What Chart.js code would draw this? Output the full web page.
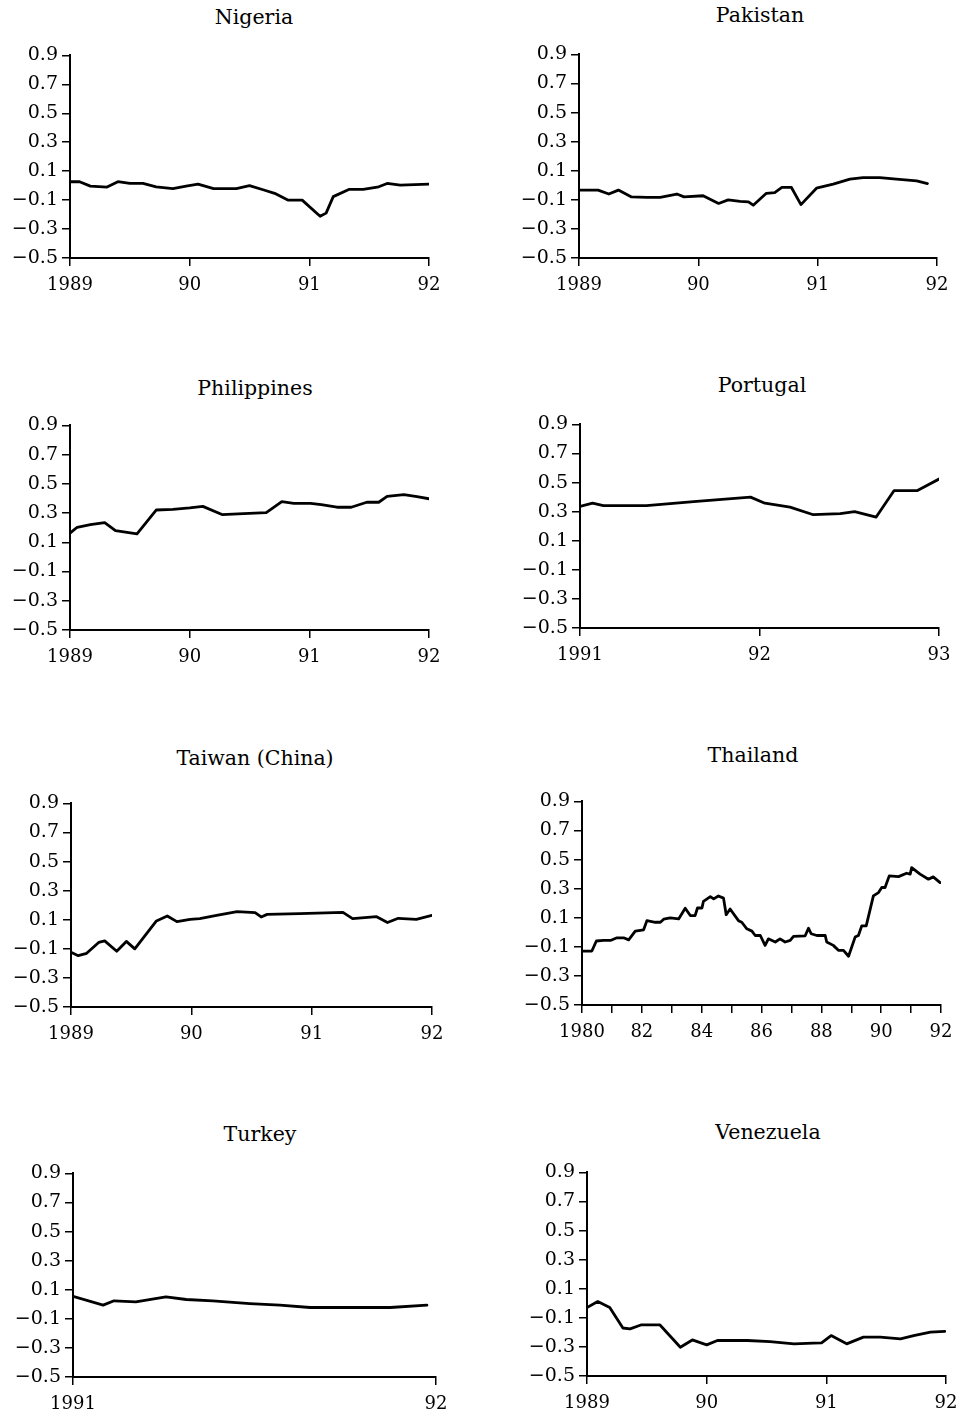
<!DOCTYPE html>
<html>
<head>
<meta charset="utf-8">
<script src="https://cdn.jsdelivr.net/npm/chart.js@4.4.1/dist/chart.umd.min.js"></script>
<style>
  body { margin: 0; background: #fff; }
  #page { position: relative; width: 960px; height: 1416px; overflow: hidden; }
  canvas { position: absolute; }
  .ttl { position: absolute; width: 300px; text-align: center; font-family: "DejaVu Serif", serif; font-size: 20.5px; line-height: 24px; color: #000; }
</style>
</head>
<body>
<div id="page"></div>
<script>
// ---------------------------------------------------------------- data

var yTicks = [-0.5, -0.3, -0.1, 0.1, 0.3, 0.5, 0.7, 0.9];

var nigeriaT = [1989.00, 1989.08, 1989.17, 1989.31, 1989.40, 1989.50, 1989.61, 1989.72, 1989.86, 1989.97,
                1990.07, 1990.20, 1990.39, 1990.50, 1990.62, 1990.71, 1990.82, 1990.94, 1991.09, 1991.14,
                1991.20, 1991.33, 1991.45, 1991.58, 1991.65, 1991.76, 1992.00];
var nigeriaV = [0.027, 0.027, -0.003, -0.010, 0.027, 0.015, 0.015, -0.008, -0.020, -0.003,
                0.010, -0.020, -0.020, 0.000, -0.030, -0.053, -0.100, -0.100, -0.212, -0.190,
                -0.076, -0.026, -0.026, -0.008, 0.015, 0.004, 0.010];

var pakistanT = [1989.00, 1989.16, 1989.25, 1989.33, 1989.44, 1989.57, 1989.68, 1989.82, 1989.88, 1990.04,
                 1990.17, 1990.25, 1990.35, 1990.42, 1990.46, 1990.57, 1990.64, 1990.70, 1990.78, 1990.86,
                 1990.99, 1991.13, 1991.27, 1991.38, 1991.52, 1991.66, 1991.83, 1991.92];
var pakistanV = [-0.033, -0.033, -0.060, -0.033, -0.080, -0.083, -0.083, -0.060, -0.080, -0.072,
                 -0.125, -0.100, -0.110, -0.114, -0.137, -0.055, -0.050, -0.015, -0.015, -0.133,
                 -0.020, 0.008, 0.042, 0.053, 0.053, 0.042, 0.030, 0.012];

var philippinesT = [1989.00, 1989.06, 1989.17, 1989.29, 1989.38, 1989.56, 1989.72, 1989.86, 1990.00, 1990.11,
                    1990.27, 1990.45, 1990.64, 1990.77, 1990.87, 1991.01, 1991.10, 1991.23, 1991.35, 1991.48,
                    1991.58, 1991.65, 1991.79, 1991.90, 1992.00];
var philippinesV = [0.163, 0.203, 0.221, 0.235, 0.180, 0.158, 0.321, 0.326, 0.335, 0.346,
                    0.290, 0.296, 0.303, 0.378, 0.367, 0.367, 0.358, 0.340, 0.340, 0.374,
                    0.374, 0.414, 0.426, 0.412, 0.398];

var portugalT = [1991.00, 1991.07, 1991.13, 1991.37, 1991.65, 1991.95, 1992.03, 1992.17, 1992.30, 1992.45,
                 1992.53, 1992.65, 1992.75, 1992.88, 1993.00];
var portugalV = [0.336, 0.358, 0.342, 0.342, 0.370, 0.400, 0.358, 0.331, 0.279, 0.286,
                 0.300, 0.263, 0.445, 0.445, 0.524];

var taiwanT = [1989.00, 1989.06, 1989.13, 1989.23, 1989.28, 1989.38, 1989.46, 1989.53, 1989.71, 1989.80,
               1989.88, 1989.99, 1990.07, 1990.21, 1990.38, 1990.53, 1990.58, 1990.63, 1990.90, 1991.26,
               1991.34, 1991.54, 1991.63, 1991.72, 1991.87, 1992.00];
var taiwanV = [-0.124, -0.147, -0.131, -0.056, -0.045, -0.117, -0.049, -0.100, 0.092, 0.126,
               0.087, 0.103, 0.108, 0.130, 0.156, 0.149, 0.119, 0.137, 0.142, 0.151,
               0.108, 0.121, 0.081, 0.110, 0.103, 0.130];

var thailandT = [1980.00, 1980.33, 1980.48, 1980.72, 1980.95, 1981.17, 1981.39, 1981.56, 1981.78, 1982.06,
                 1982.17, 1982.45, 1982.62, 1982.73, 1982.95, 1983.23, 1983.45, 1983.62, 1983.78, 1983.86,
                 1984.01, 1984.06, 1984.29, 1984.40, 1984.56, 1984.73, 1984.82, 1984.95, 1985.23, 1985.34,
                 1985.51, 1985.68, 1985.79, 1985.96, 1986.12, 1986.23, 1986.46, 1986.62, 1986.79, 1986.96,
                 1987.07, 1987.46, 1987.57, 1987.66, 1987.85, 1988.13, 1988.18, 1988.40, 1988.57, 1988.74,
                 1988.91, 1989.13, 1989.24, 1989.35, 1989.50, 1989.74, 1989.91, 1990.02, 1990.13, 1990.27,
                 1990.58, 1990.85, 1990.97, 1991.02, 1991.30, 1991.58, 1991.74, 1991.97];
var thailandV = [-0.129, -0.129, -0.060, -0.056, -0.056, -0.038, -0.038, -0.052, 0.008, 0.017,
                 0.080, 0.069, 0.069, 0.090, 0.099, 0.092, 0.165, 0.115, 0.115, 0.167,
                 0.167, 0.213, 0.245, 0.230, 0.250, 0.235, 0.121, 0.160, 0.080, 0.069,
                 0.024, 0.008, -0.022, -0.022, -0.090, -0.045, -0.067, -0.045, -0.067, -0.056,
                 -0.028, -0.024, 0.028, -0.010, -0.022, -0.022, -0.067, -0.090, -0.124, -0.124,
                 -0.165, -0.033, -0.022, 0.044, 0.044, 0.250, 0.273, 0.308, 0.308, 0.388,
                 0.383, 0.406, 0.400, 0.445, 0.400, 0.365, 0.381, 0.342];

var turkeyT = [1991.000, 1991.083, 1991.113, 1991.173, 1991.256, 1991.312, 1991.385, 1991.487, 1991.570, 1991.653,
               1991.763, 1991.874, 1991.975];
var turkeyV = [0.055, -0.006, 0.024, 0.017, 0.051, 0.033, 0.024, 0.005, -0.006, -0.022,
               -0.022, -0.022, -0.006];

var venezuelaT = [1989.00, 1989.09, 1989.19, 1989.30, 1989.36, 1989.45, 1989.61, 1989.78, 1989.88, 1990.00,
                  1990.09, 1990.34, 1990.53, 1990.73, 1990.89, 1990.96, 1991.04, 1991.17, 1991.31, 1991.45,
                  1991.62, 1991.73, 1991.87, 1991.99];
var venezuelaV = [-0.029, 0.012, -0.029, -0.170, -0.176, -0.149, -0.149, -0.302, -0.252, -0.286,
                  -0.256, -0.256, -0.263, -0.279, -0.274, -0.272, -0.222, -0.279, -0.233, -0.233,
                  -0.245, -0.222, -0.199, -0.193];

var ticks89 = [1989, 1990, 1991, 1992];
var labels89 = ['1989', '90', '91', '92'];
var ticks91 = [1991, 1992, 1993];
var labels91 = ['1991', '92', '93'];
var ticksTurkey = [1991, 1992];
var labelsTurkey = ['1991', '92'];
var ticks80 = [1980, 1981, 1982, 1983, 1984, 1985, 1986, 1987, 1988, 1989, 1990, 1991, 1992];
var labels80 = ['1980', '', '82', '', '84', '', '86', '', '88', '', '90', '', '92'];

// ---------------------------------------------------------------- layout

var Y_W = 64, X_H = 44, PAD_T = 14, PAD_R = 28;
var FONT = "'DejaVu Serif', serif";

var panels = [
    { title: 'Nigeria', t: nigeriaT, v: nigeriaV, xt: ticks89, xl: labels89, ax: 70, top: 54, bot: 258, right: 429, tx: 254, ty: 17 },
    { title: 'Pakistan', t: pakistanT, v: pakistanV, xt: ticks89, xl: labels89, ax: 579, top: 53, bot: 258, right: 937, tx: 760, ty: 15 },
    { title: 'Philippines', t: philippinesT, v: philippinesV, xt: ticks89, xl: labels89, ax: 70, top: 424, bot: 630, right: 429, tx: 255, ty: 388 },
    { title: 'Portugal', t: portugalT, v: portugalV, xt: ticks91, xl: labels91, ax: 580, top: 423, bot: 628, right: 939, tx: 762, ty: 385 },
    { title: 'Taiwan (China)', t: taiwanT, v: taiwanV, xt: ticks89, xl: labels89, ax: 71, top: 802, bot: 1007, right: 432, tx: 255, ty: 758 },
    { title: 'Thailand', t: thailandT, v: thailandV, xt: ticks80, xl: labels80, ax: 582, top: 800, bot: 1005, right: 941, tx: 753, ty: 755 },
    { title: 'Turkey', t: turkeyT, v: turkeyV, xt: ticksTurkey, xl: labelsTurkey, ax: 73, top: 1172, bot: 1377, right: 436, tx: 260, ty: 1134 },
    { title: 'Venezuela', t: venezuelaT, v: venezuelaV, xt: ticks89, xl: labels89, ax: 587, top: 1171, bot: 1376, right: 946, tx: 768, ty: 1132 }
];

function makePanel(p) {
    var page = document.getElementById('page');

    var ttl = document.createElement('div');
    ttl.className = 'ttl';
    ttl.textContent = p.title;
    ttl.style.left = (p.tx - 150) + 'px';
    ttl.style.top = (p.ty - 12) + 'px';
    page.appendChild(ttl);

    var cv = document.createElement('canvas');
    var w = (p.right - p.ax) + Y_W + PAD_R;
    var h = (p.bot - p.top) + PAD_T + X_H;
    cv.width = w; cv.height = h;
    cv.style.left = (p.ax - Y_W) + 'px';
    cv.style.top = (p.top - PAD_T) + 'px';
    page.appendChild(cv);

    var pts = p.t.map(function (t, i) { return { x: t, y: p.v[i] }; });

    new Chart(cv.getContext('2d'), {
        type: 'line',
        data: {
            datasets: [{
                data: pts,
                borderColor: '#000',
                borderWidth: 2.8,
                pointRadius: 0,
                tension: 0,
                fill: false,
                borderJoinStyle: 'round',
                borderCapStyle: 'round'
            }]
        },
        options: {
            responsive: false,
            animation: false,
            devicePixelRatio: 1,
            layout: { padding: { left: 0, right: PAD_R, top: PAD_T, bottom: 0 } },
            plugins: { legend: { display: false }, tooltip: { enabled: false }, title: { display: false } },
            scales: {
                x: {
                    type: 'linear',
                    min: p.xt[0],
                    max: p.xt[p.xt.length - 1],
                    afterBuildTicks: function (s) { s.ticks = p.xt.map(function (v) { return { value: v }; }); },
                    afterFit: function (s) { s.height = X_H; },
                    ticks: {
                        autoSkip: false, maxRotation: 0, padding: 9, color: '#000',
                        font: { family: FONT, size: 18 },
                        callback: function (v, i) { return p.xl[i]; }
                    },
                    grid: { drawOnChartArea: false, drawTicks: true, tickLength: 8, color: '#000', lineWidth: 1.5 },
                    border: { display: true, color: '#000', width: 2 }
                },
                y: {
                    min: -0.5,
                    max: 0.9,
                    afterBuildTicks: function (s) { s.ticks = yTicks.map(function (v) { return { value: v }; }); },
                    afterFit: function (s) { s.width = Y_W; },
                    ticks: {
                        padding: 4, color: '#000',
                        font: { family: FONT, size: 19 },
                        callback: function (v) { return v.toFixed(1).replace('-', '\u2212'); }
                    },
                    grid: { drawOnChartArea: false, drawTicks: true, tickLength: 8, color: '#000', lineWidth: 1.5 },
                    border: { display: true, color: '#000', width: 2 }
                }
            }
        }
    });
}

panels.forEach(makePanel);
</script>
</body>
</html>
